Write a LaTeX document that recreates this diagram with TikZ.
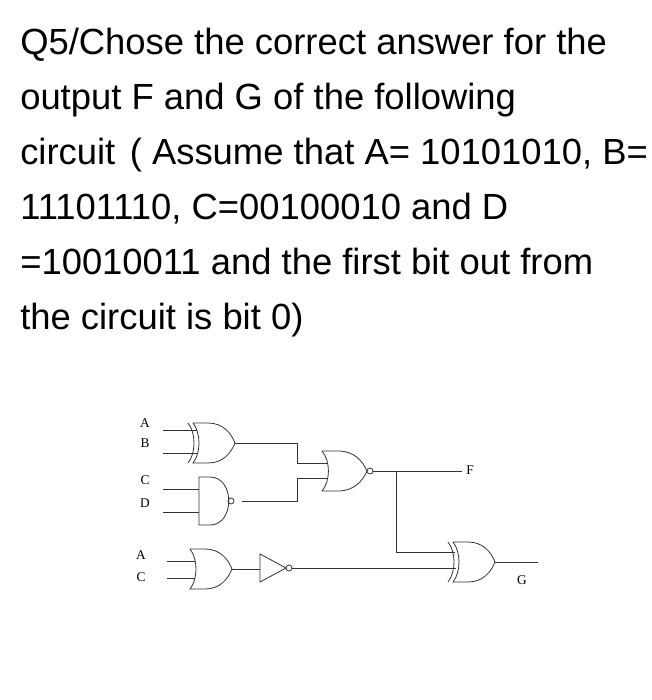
\documentclass[tikz,border=0pt]{standalone}
\usepackage{fontspec}
\setmainfont{Liberation Sans}
\newfontfamily\serifl{Liberation Serif}
\begin{document}
\begin{tikzpicture}[x=0.75pt,y=-0.75pt,
  wire/.style={draw=black!80,line width=0.6pt},
  gate/.style={draw=black!80,line width=0.6pt},
  lbl/.style={font=\serifl\fontsize{10}{10}\selectfont,inner sep=0pt},
  q/.style={font=\fontsize{27.3}{27.3}\selectfont,anchor=base west,inner sep=0pt},
  orshape/.pic={\draw[gate] (0,-20) -- (15,-20) .. controls (30,-20) and (38,-10) .. (42,0) .. controls (38,10) and (30,20) .. (15,20) -- (0,20) .. controls (8,10) and (8,-10) .. (0,-20);},
  xorshape/.pic={\draw[gate] (0,-20) -- (15,-20) .. controls (30,-20) and (38,-10) .. (42,0) .. controls (38,10) and (30,20) .. (15,20) -- (0,20) .. controls (8,10) and (8,-10) .. (0,-20);
     \draw[gate] (-5,-20) .. controls (3,-10) and (3,10) .. (-5,20);},
  nandshape/.pic={\draw[gate] (0,-24) -- (11,-24) .. controls (36,-24) and (36,24) .. (11,24) -- (0,24) -- cycle; \draw[gate] (32,0) circle (3);}
]
\useasboundingbox (0,0) rectangle (651,700);
\fill[white] (0,0) rectangle (651,700);
\node[q] (l1) at (20,54) {Q5/Chose the correct answer for the};
\node[q] (l2) at (20,109) {output F and G of the following};
\node[q] (l3) at (20,164) {circuit\hspace{0.4em}( Assume that A= 10101010, B=};
\node[q] (l4) at (20,219) {11101110, C=00100010 and D};
\node[q] (l5) at (20,274) {=10010011 and the first bit out from};
\node[q] (l6) at (20,329) {the circuit is bit 0)};
% gates
\pic at (193,443) {xorshape};
\pic at (199,501) {nandshape};
\pic[xscale=1.07] at (322,471) {orshape};
\draw[gate] (370,471) circle (3);
\pic at (190,569) {orshape};
\pic at (453,562) {xorshape};
\draw[gate] (260,554) -- (286,568) -- (260,582) -- cycle;
\draw[gate] (289,568) circle (3);
% labels
\node[lbl] (A1) at (145,423) {A};
\node[lbl] (B1) at (145,443) {B};
\node[lbl] (C1) at (145,480) {C};
\node[lbl] (D1) at (145,503) {D};
\node[lbl] (A2) at (141,555) {A};
\node[lbl] (C2) at (141,577) {C};
\node[lbl] (F) at (470,470) {F};
\node[lbl] (G) at (522,580) {G};
% wires
\draw[wire] (163,430) -- (197,430);
\draw[wire] (163,453) -- (197,453);
\draw[wire] (163,489) -- (199,489);
\draw[wire] (163,512) -- (199,512);
\draw[wire] (235,443) -- (297,443) -- (297,463) -- (327,463);
\draw[wire] (242,501) -- (297,501) -- (297,478) -- (327,478);
\draw[wire] (373,471) -- (462,471);
\draw[wire] (396,471) -- (396,552) -- (455,552);
\draw[wire] (167,561) -- (195,561);
\draw[wire] (167,578) -- (195,578);
\draw[wire] (232,569) -- (260,569);
\draw[wire] (292,568) -- (456,568);
\draw[wire] (495,562) -- (538,562);
\end{tikzpicture}
\end{document}
